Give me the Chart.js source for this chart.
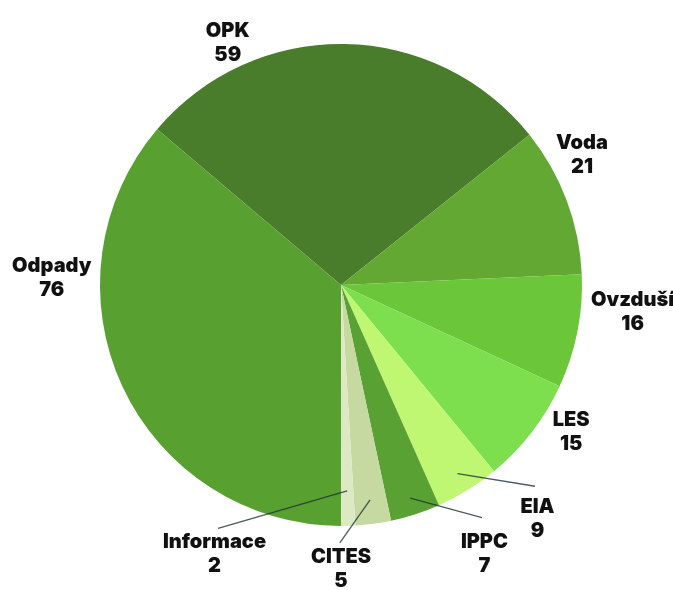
<!DOCTYPE html>
<html>
<head>
<meta charset="utf-8">
<script src="https://cdn.jsdelivr.net/npm/chart.js@4/dist/chart.umd.min.js"></script>
<style>
  html, body { margin: 0; padding: 0; background: #ffffff; }
  #wrap { width: 673px; height: 590px; }
</style>
</head>
<body>
<div id="wrap"><canvas id="c" width="673" height="590"></canvas></div>
<script>
// ---- data ----
const categories = ["OPK", "Voda", "Ovzduší", "LES", "EIA", "IPPC", "CITES", "Informace", "Odpady"];
const values = [59, 21, 16, 15, 9, 7, 5, 2, 76];

// ---- styles ----
const colors = ["#4a7d2b", "#64a834", "#6cc63a", "#7ddf4e", "#bff672", "#59a133", "#c6d9a0", "#dde9c2", "#58a030"];
// label centre offsets from pie centre, in units of the radius
const labelOffsets = [
  [-0.47, -1.005], [1.0, -0.54], [1.21, 0.11], [0.955, 0.61], [0.815, 0.97],
  [0.595, 1.115], [0.0, 1.18], [-0.525, 1.115], [-1.20, -0.03]
];
// leader lines: [start radius fraction, end dx, end dy (units of radius)] or null
const leaders = [null, null, null, null,
  [0.92, 0.805, 0.835], [0.93, 0.585, 0.965], [0.90, -0.005, 1.07], [0.855, -0.51, 1.01], null];

const labelPlugin = {
  id: 'outLabels',
  afterDatasetsDraw(chart) {
    const ctx = chart.ctx;
    const meta = chart.getDatasetMeta(0);
    ctx.save();
    meta.data.forEach((arc, i) => {
      const r = arc.outerRadius, cx = arc.x, cy = arc.y;
      const L = leaders[i];
      if (L) {
        const mid = (arc.startAngle + arc.endAngle) / 2;
        const sx = cx + Math.cos(mid) * r * L[0];
        const sy = cy + Math.sin(mid) * r * L[0];
        const ex = cx + L[1] * r, ey = cy + L[2] * r;
        ctx.beginPath();
        ctx.moveTo(sx, sy);
        ctx.lineTo(ex, ey);
        ctx.strokeStyle = 'rgba(30,50,55,0.8)';
        ctx.lineWidth = 1.3;
        ctx.stroke();
      }
      const lx = cx + labelOffsets[i][0] * r;
      const ly = cy + labelOffsets[i][1] * r;
      ctx.fillStyle = '#111111';
      ctx.font = '900 20px Inter, "DejaVu Sans", sans-serif';
      ctx.textAlign = 'center';
      ctx.textBaseline = 'middle';
      ctx.fillText(categories[i], lx, ly - 12);
      ctx.fillText(String(values[i]), lx, ly + 12);
    });
    ctx.restore();
  }
};

new Chart(document.getElementById('c'), {
  type: 'pie',
  data: {
    labels: categories,
    datasets: [{
      data: values,
      backgroundColor: colors,
      borderWidth: 0
    }]
  },
  options: {
    responsive: false,
    animation: false,
    rotation: 310.29,
    layout: { padding: { top: 44, bottom: 64, left: 100, right: 91 } },
    plugins: {
      legend: { display: false },
      tooltip: { enabled: false }
    }
  },
  plugins: [labelPlugin]
});
</script>
</body>
</html>
